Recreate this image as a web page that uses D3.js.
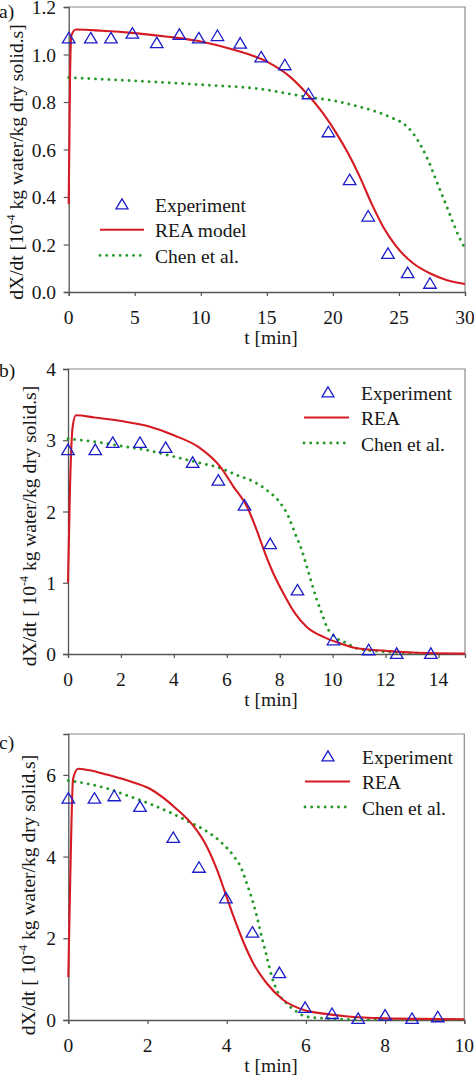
<!DOCTYPE html>
<html><head><meta charset="utf-8">
<script src="https://cdn.jsdelivr.net/npm/d3@7/dist/d3.min.js"></script>
<style>
body{margin:0;background:#fff}
svg{display:block}
text{font-family:"Liberation Serif","Times New Roman",serif;font-size:19.5px;fill:#161616}
</style>
</head><body>
<svg id="chart" width="474" height="1080"></svg>
<script>
// ---------- Panel a ----------
const aExpT = [0, 1.67, 3.2, 4.82, 6.67, 8.38, 9.85, 11.26, 12.98, 14.57, 16.36, 18.15, 19.66, 21.27, 22.67, 24.17, 25.66, 27.35];
const aExpY = [1.07, 1.07, 1.07, 1.09, 1.05, 1.085, 1.07, 1.08, 1.048, 0.99, 0.957, 0.835, 0.675, 0.473, 0.32, 0.163, 0.082, 0.037];
const aReaT = [0, 0.1, 0.2, 0.55, 2.5, 5, 7.5, 10, 12.5, 15, 16.74, 18.0, 19.26, 20.27, 21.15, 22.03, 22.92, 23.8, 24.81, 26.07, 27.33, 28.59, 30];
const aReaY = [0.37, 0.9, 1.08, 1.105, 1.1, 1.09, 1.075, 1.055, 1.02, 0.97, 0.907, 0.837, 0.752, 0.668, 0.584, 0.486, 0.373, 0.275, 0.191, 0.121, 0.079, 0.051, 0.034];
const aChenT = [0, 5, 10, 15, 16.74, 18.25, 20.02, 21.79, 23.3, 24.56, 25.31, 26.07, 26.7, 27.2, 27.71, 28.21, 28.72, 29.22, 29.6, 30];
const aChenY = [0.903, 0.889, 0.873, 0.851, 0.834, 0.82, 0.806, 0.783, 0.759, 0.731, 0.71, 0.668, 0.612, 0.556, 0.486, 0.416, 0.345, 0.275, 0.226, 0.185];
const aXTicks = [0, 5, 10, 15, 20, 25, 30];
const aYTicks = [0, 0.2, 0.4, 0.6, 0.8, 1.0, 1.2];
const aLegend = ["Experiment", "REA model", "Chen et al."];

// ---------- Panel b ----------
const bExpT = [0, 1.03, 1.69, 2.72, 3.69, 4.71, 5.68, 6.67, 7.64, 8.67, 10.03, 11.36, 12.42, 13.71];
const bExpY = [2.87, 2.87, 2.97, 2.97, 2.90, 2.69, 2.44, 2.09, 1.55, 0.90, 0.20, 0.06, 0.01, 0.01];
const bReaT = [0, 0.08, 0.18, 0.3, 1, 2, 3, 4, 4.99, 5.75, 6.25, 6.76, 7.13, 7.45, 7.76, 8.14, 8.58, 9.02, 9.65, 10.28, 10.91, 12, 13, 15];
const bReaY = [1.0, 2.4, 3.2, 3.35, 3.32, 3.27, 3.2, 3.07, 2.89, 2.63, 2.35, 2.07, 1.74, 1.41, 1.13, 0.85, 0.57, 0.38, 0.24, 0.15, 0.08, 0.045, 0.02, 0.005];
const bChenT = [0, 1, 2, 3, 4, 4.99, 5.75, 6.38, 7.01, 7.51, 8.02, 8.33, 8.58, 8.83, 9.02, 9.21, 9.40, 9.59, 9.78, 10.09, 10.54, 10.91, 12, 13.4];
const bChenY = [3.02, 2.98, 2.92, 2.86, 2.77, 2.68, 2.61, 2.51, 2.42, 2.30, 2.12, 1.93, 1.69, 1.46, 1.23, 0.99, 0.76, 0.57, 0.38, 0.24, 0.15, 0.08, 0.03, 0.01];
const bXTicks = [0, 2, 4, 6, 8, 10, 12, 14];
const bYTicks = [0, 1, 2, 3, 4];
const bLegend = ["Experiment", "REA", "Chen et al."];

// ---------- Panel c ----------
const cExpT = [0, 0.66, 1.16, 1.81, 2.65, 3.30, 3.98, 4.65, 5.33, 5.98, 6.66, 7.32, 8.0, 8.68, 9.33];
const cExpY = [5.43, 5.43, 5.49, 5.23, 4.47, 3.74, 2.99, 2.15, 1.16, 0.31, 0.16, 0.04, 0.12, 0.04, 0.08];
const cReaT = [0, 0.05, 0.12, 0.25, 0.5, 1, 1.5, 2.06, 2.74, 3.16, 3.49, 3.75, 3.96, 4.17, 4.43, 4.67, 5.01, 5.43, 5.93, 6.5, 7, 8, 10];
const cReaY = [1.05, 3.5, 5.9, 6.15, 6.12, 6.0, 5.86, 5.66, 5.16, 4.75, 4.26, 3.69, 3.12, 2.54, 1.89, 1.39, 0.90, 0.49, 0.25, 0.15, 0.09, 0.04, 0.02];
const cChenT = [0, 0.5, 1, 1.5, 2.06, 2.57, 3.07, 3.54, 3.87, 4.17, 4.38, 4.50, 4.63, 4.76, 4.88, 5.01, 5.14, 5.30, 5.51, 5.77, 6.02, 6.5, 7, 8, 10];
const cChenY = [5.86, 5.78, 5.66, 5.49, 5.29, 5.08, 4.84, 4.59, 4.34, 4.02, 3.69, 3.36, 2.99, 2.54, 2.05, 1.56, 1.06, 0.66, 0.41, 0.20, 0.08, 0.04, 0.016, 0.01, 0.01];
const cXTicks = [0, 2, 4, 6, 8, 10];
const cYTicks = [0, 2, 4, 6];
const cLegend = ["Experiment", "REA", "Chen et al."];

const yTitleMain = "dX/dt [10";
const yTitleSup = "-4";
const yTitleRest = " kg water/kg dry solid.s]";
const xTitle = "t [min]";

// ---------- drawing ----------
const svg = d3.select("#chart");
const RED = "#d51a22", GREEN = "#26992a", BLUE = "#1c1cc8";
const DOTS = "0.01 6.7";

const panels = [
  {tag: "a)", expT: aExpT, expY: aExpY, reaT: aReaT, reaY: aReaY, chenT: aChenT, chenY: aChenY,
   xMax: 30, yMax: 1.2, xTicks: aXTicks, yTicks: aYTicks, fmt: d3.format(".1f"), legend: aLegend, pre: "",
   L: 68.7, R: 465, T: 7, B: 292, tagY: 18, ytX: 23, ytY: 162,
   lg: {mx: 122, l1: 100, l2: 144, tx: 155, y0: 204, dy: 25.7}},
  {tag: "b)", expT: bExpT, expY: bExpY, reaT: bReaT, reaY: bReaY, chenT: bChenT, chenY: bChenY,
   xMax: 15, yMax: 4, xTicks: bXTicks, yTicks: bYTicks, fmt: d3.format("d"), legend: bLegend, pre: " ",
   L: 68, R: 465, T: 369, B: 654, tagY: 377, ytX: 36, ytY: 526,
   lg: {mx: 328, l1: 304, l2: 349, tx: 361, y0: 392, dy: 25.5}},
  {tag: "c)", expT: cExpT, expY: cExpY, reaT: cReaT, reaY: cReaY, chenT: cChenT, chenY: cChenY,
   xMax: 10, yMax: 7, xTicks: cXTicks, yTicks: cYTicks, fmt: d3.format("d"), legend: cLegend, pre: " ",
   L: 68.3, R: 464.3, T: 734, B: 1020, tagY: 749, ytX: 35, ytY: 895,
   lg: {mx: 328, l1: 305, l2: 350, tx: 362, y0: 756, dy: 25.5}}
];

function triPath(w, h) {
  return `M0,${-h * 0.52}L${w / 2},${h * 0.48}L${-w / 2},${h * 0.48}Z`;
}

panels.forEach(p => {
  const x = d3.scaleLinear().domain([0, p.xMax]).range([p.L, p.R]);
  const y = d3.scaleLinear().domain([0, p.yMax]).range([p.B, p.T]);
  const g = svg.append("g");

  // frame (top/right)
  g.append("path")
    .attr("d", `M${p.L},${p.T}H${p.R}V${p.B}`)
    .attr("fill", "none").attr("stroke", "#8a8a8a").attr("stroke-width", 1.2);

  // axes
  const xAxis = d3.axisBottom(x).tickValues(p.xTicks).tickSize(4).tickFormat("");
  const yAxis = d3.axisLeft(y).tickValues(p.yTicks).tickSize(5).tickFormat("");
  const gx = g.append("g").attr("transform", `translate(0,${p.B})`).call(xAxis);
  const gy = g.append("g").attr("transform", `translate(${p.L},0)`).call(yAxis);
  [gx, gy].forEach(a => {
    a.select(".domain").attr("stroke", "#555").attr("stroke-width", 1.3);
    a.selectAll(".tick line").attr("stroke", "#555").attr("stroke-width", 1.2);
  });

  // tick labels
  g.selectAll(".xl").data(p.xTicks).join("text")
    .attr("x", d => x(d)).attr("y", p.B + 32)
    .attr("text-anchor", "middle").text(d => d);
  g.selectAll(".yl").data(p.yTicks).join("text")
    .attr("x", 56).attr("y", d => y(d) + 7.2)
    .attr("text-anchor", "end").text(d => p.fmt(d));

  // axis titles
  g.append("text").attr("x", 271).attr("y", p.B + 52)
    .attr("text-anchor", "middle").text(xTitle);
  const yt = g.append("text")
    .attr("transform", `translate(${p.ytX},${p.ytY}) rotate(-90)`)
    .attr("text-anchor", "middle");
  yt.append("tspan").text(yTitleMain.replace("[", "[" + p.pre));
  yt.append("tspan").attr("dy", -8).style("font-size", "12px").text(yTitleSup);
  yt.append("tspan").attr("dy", 8).text(yTitleRest);

  // panel tag
  g.append("text").attr("x", -1).attr("y", p.tagY).text(p.tag);

  // lines
  const line = d3.line().x(d => x(d[0])).y(d => y(d[1])).curve(d3.curveMonotoneX);
  const chen = p.chenT.map((t, i) => [t, p.chenY[i]]);
  const rea = p.reaT.map((t, i) => [t, p.reaY[i]]);
  g.append("path").datum(chen).attr("d", line)
    .attr("fill", "none").attr("stroke", GREEN).attr("stroke-width", 2.9)
    .attr("stroke-linecap", "round").attr("stroke-dasharray", DOTS);
  g.append("path").datum(rea).attr("d", line)
    .attr("fill", "none").attr("stroke", RED).attr("stroke-width", 2.1)
    .attr("stroke-linejoin", "round");

  // experiment markers
  const exp = p.expT.map((t, i) => [t, p.expY[i]]);
  g.selectAll(".tri").data(exp).join("path")
    .attr("d", triPath(12.5, 10.5))
    .attr("transform", d => `translate(${x(d[0])},${y(d[1])})`)
    .attr("fill", "none").attr("stroke", BLUE).attr("stroke-width", 1.3);

  // legend
  const lg = p.lg;
  g.append("path").attr("d", triPath(12, 10))
    .attr("transform", `translate(${lg.mx},${lg.y0})`)
    .attr("fill", "none").attr("stroke", BLUE).attr("stroke-width", 1.3);
  g.append("line").attr("x1", lg.l1).attr("x2", lg.l2)
    .attr("y1", lg.y0 + lg.dy).attr("y2", lg.y0 + lg.dy)
    .attr("stroke", RED).attr("stroke-width", 2.1);
  g.append("line").attr("x1", lg.l1).attr("x2", lg.l2)
    .attr("y1", lg.y0 + 2 * lg.dy).attr("y2", lg.y0 + 2 * lg.dy)
    .attr("stroke", GREEN).attr("stroke-width", 2.9)
    .attr("stroke-linecap", "round").attr("stroke-dasharray", DOTS);
  p.legend.forEach((s, i) => {
    g.append("text").attr("x", lg.tx).attr("y", lg.y0 + i * lg.dy + 7.5).text(s);
  });
});
</script>
</body></html>
